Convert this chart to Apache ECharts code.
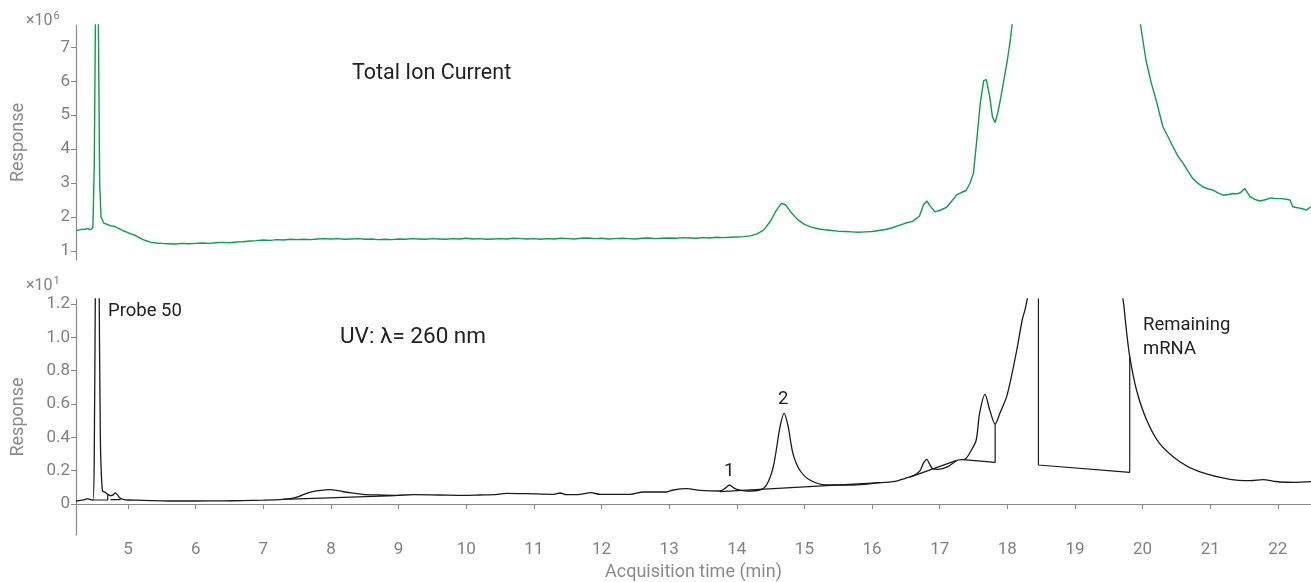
<!DOCTYPE html>
<html>
<head>
<meta charset="utf-8">
<script src="https://cdn.jsdelivr.net/npm/echarts@6/dist/echarts.min.js"></script>
<style>
html,body{margin:0;padding:0;background:#fff;}
#chart{width:1311px;height:582px;}
</style>
</head>
<body>
<div id="chart"></div>
<script>
// ---- Data ----
// Total Ion Current trace (time in min, response ×10^6)
const ticTime = [4.24,4.28,4.32,4.36,4.40,4.43,4.46,4.48,4.50,4.52,4.54,4.56,4.58,4.60,4.64,4.69,4.74,4.80,4.86,4.92,4.98,5.04,5.10,5.16,5.22,5.28,5.34,5.42,5.50,5.60,5.70,5.80,5.90,6.00,6.10,6.20,6.30,6.40,6.50,6.60,6.70,6.80,6.90,7.00,7.10,7.20,7.30,7.40,7.50,7.60,7.70,7.80,7.90,8.00,8.10,8.20,8.30,8.40,8.50,8.60,8.70,8.80,8.90,9.00,9.10,9.20,9.30,9.40,9.50,9.60,9.70,9.80,9.90,10.00,10.10,10.20,10.30,10.40,10.50,10.60,10.70,10.80,10.90,11.00,11.10,11.20,11.30,11.40,11.50,11.60,11.70,11.80,11.90,12.00,12.10,12.20,12.30,12.40,12.50,12.60,12.70,12.80,12.90,13.00,13.10,13.20,13.30,13.40,13.50,13.60,13.70,13.80,13.90,14.00,14.10,14.20,14.30,14.40,14.50,14.58,14.66,14.72,14.80,14.90,15.00,15.10,15.20,15.30,15.40,15.50,15.60,15.70,15.80,15.90,16.00,16.10,16.20,16.30,16.40,16.50,16.60,16.70,16.76,16.81,16.86,16.93,17.00,17.10,17.20,17.25,17.32,17.39,17.45,17.50,17.55,17.60,17.65,17.69,17.74,17.78,17.82,17.86,17.90,17.95,18.00,18.04,18.07,18.15,18.50,19.00,19.50,19.90,19.97,20.05,20.13,20.20,20.30,20.38,20.45,20.52,20.60,20.67,20.74,20.80,20.89,20.96,21.04,21.12,21.19,21.27,21.34,21.40,21.45,21.51,21.59,21.66,21.73,21.80,21.90,21.97,22.05,22.12,22.18,22.22,22.27,22.32,22.37,22.42,22.49];
const ticValue = [1.60,1.62,1.64,1.63,1.66,1.63,1.64,1.70,3.50,8.50,12.0,8.00,3.00,2.00,1.82,1.78,1.74,1.72,1.66,1.60,1.55,1.50,1.46,1.40,1.33,1.29,1.25,1.23,1.22,1.21,1.20,1.22,1.21,1.22,1.23,1.22,1.24,1.25,1.24,1.26,1.27,1.29,1.30,1.32,1.31,1.33,1.32,1.34,1.33,1.34,1.33,1.35,1.36,1.35,1.36,1.34,1.35,1.36,1.34,1.35,1.33,1.34,1.33,1.35,1.34,1.36,1.35,1.34,1.36,1.35,1.34,1.36,1.35,1.37,1.35,1.36,1.34,1.35,1.36,1.35,1.37,1.36,1.35,1.36,1.34,1.36,1.35,1.37,1.36,1.35,1.37,1.38,1.36,1.37,1.35,1.36,1.37,1.36,1.35,1.37,1.38,1.36,1.37,1.38,1.37,1.39,1.38,1.37,1.39,1.38,1.40,1.39,1.40,1.41,1.42,1.44,1.50,1.62,1.88,2.18,2.40,2.36,2.14,1.92,1.78,1.70,1.65,1.62,1.60,1.58,1.57,1.56,1.55,1.56,1.57,1.60,1.63,1.68,1.75,1.82,1.87,2.02,2.35,2.47,2.32,2.15,2.19,2.28,2.52,2.65,2.72,2.78,3.00,3.30,4.30,5.35,6.02,6.05,5.55,4.95,4.78,5.08,5.48,6.05,6.62,7.15,7.66,9.50,13.0,15.0,12.0,8.20,7.66,6.62,5.94,5.45,4.66,4.35,4.07,3.80,3.58,3.35,3.14,3.02,2.89,2.83,2.79,2.70,2.64,2.66,2.69,2.68,2.72,2.84,2.59,2.52,2.47,2.50,2.56,2.54,2.54,2.52,2.50,2.30,2.28,2.26,2.24,2.20,2.30];

// UV 260 nm trace (time in min, response ×10^1)
const uvTime = [4.23,4.30,4.36,4.40,4.44,4.48,4.50,4.52,4.545,4.57,4.59,4.62,4.66,4.70,4.74,4.78,4.81,4.84,4.88,4.94,5.00,5.22,5.50,5.71,6.00,6.40,6.70,7.00,7.29,7.42,7.53,7.63,7.73,7.85,7.98,8.08,8.17,8.30,8.47,8.70,8.96,9.22,9.60,9.96,10.20,10.40,10.60,10.90,11.29,11.39,11.48,11.68,11.84,11.98,12.42,12.62,12.96,13.06,13.26,13.46,13.75,13.84,13.89,13.95,14.00,14.15,14.34,14.44,14.54,14.64,14.70,14.76,14.83,14.93,15.08,15.33,15.72,16.12,16.31,16.49,16.63,16.71,16.76,16.81,16.85,16.89,16.98,17.12,17.27,17.37,17.47,17.54,17.59,17.67,17.74,17.82,17.89,17.99,18.06,18.14,18.22,18.27,18.32,18.60,19.00,19.40,19.65,19.72,19.76,19.81,19.91,20.06,20.25,20.55,20.84,21.29,21.60,21.78,21.95,22.03,22.25,22.49];
const uvValue = [0.018,0.022,0.026,0.032,0.026,0.024,0.30,1.60,3.00,1.50,0.40,0.080,0.070,0.058,0.050,0.055,0.066,0.056,0.036,0.026,0.024,0.022,0.019,0.018,0.018,0.019,0.020,0.023,0.028,0.034,0.046,0.062,0.074,0.082,0.086,0.082,0.075,0.067,0.058,0.054,0.052,0.056,0.054,0.052,0.054,0.056,0.064,0.062,0.058,0.066,0.056,0.058,0.068,0.058,0.058,0.072,0.072,0.084,0.092,0.082,0.078,0.098,0.114,0.098,0.088,0.078,0.084,0.114,0.224,0.464,0.544,0.464,0.304,0.204,0.144,0.114,0.114,0.128,0.134,0.154,0.174,0.200,0.245,0.268,0.240,0.214,0.208,0.224,0.264,0.268,0.324,0.384,0.544,0.658,0.564,0.480,0.544,0.644,0.764,0.924,1.104,1.180,1.30,3.00,4.00,3.00,1.40,1.20,1.044,0.884,0.684,0.504,0.364,0.254,0.194,0.148,0.140,0.146,0.136,0.132,0.130,0.134];

// Integration baselines drawn on the UV trace (null separates segments)
const baseTime  = [4.48,4.70,4.70,null,4.74,4.89,null,7.29,8.96,null,13.75,16.12,null,16.55,17.25,null,17.35,17.82,17.82,null,18.46,18.46,19.81,19.81];
const baseValue = [0.024,0.024,0.058,null,0.026,0.026,null,0.028,0.050,null,0.074,0.128,null,0.160,0.262,null,0.266,0.250,0.480,null,1.60,0.234,0.190,0.884];

// Axis ticks
const xTicks = [5,6,7,8,9,10,11,12,13,14,15,16,17,18,19,20,21,22];
const ticTicks = [1,2,3,4,5,6,7];
const uvTicks = [0,0.2,0.4,0.6,0.8,1.0,1.2];

// ---- Build ----
const zip = (a, b) => a.map((t, i) => (t === null ? [null, null] : [t, b[i]]));
const axisGrey = '#8a8a8a';
const labelGrey = '#808080';
const font = 'Roboto, "Noto Sans", sans-serif';

const chart = echarts.init(document.getElementById('chart'), null, {renderer: 'canvas'});

const yCommon = {
  type: 'value',
  splitLine: {show: false},
  axisLine: {show: true, lineStyle: {color: axisGrey, width: 1.2}},
  axisTick: {show: true, length: 5, lineStyle: {color: axisGrey}},
  axisLabel: {color: labelGrey, fontSize: 17, fontFamily: font, margin: 6},
  name: 'Response',
  nameLocation: 'middle',
  nameGap: 49,
  nameTextStyle: {color: axisGrey, fontSize: 18, fontFamily: font}
};

chart.setOption({
  animation: false,
  backgroundColor: '#fff',
  grid: [
    {left: 76, right: 0, top: 25, height: 235},
    {left: 76, right: 0, top: 299, height: 236}
  ],
  xAxis: [
    {gridIndex: 0, type: 'value', min: 4.23, max: 22.49, show: false},
    {gridIndex: 1, type: 'value', min: 4.23, max: 22.49,
     splitLine: {show: false},
     axisLine: {show: true, lineStyle: {color: axisGrey, width: 1.2}},
     axisTick: {show: true, length: 5, customValues: xTicks, lineStyle: {color: axisGrey}},
     axisLabel: {customValues: xTicks, color: labelGrey, fontSize: 17, fontFamily: font, margin: 6},
     name: 'Acquisition time (min)', nameLocation: 'middle', nameGap: 28,
     nameTextStyle: {color: axisGrey, fontSize: 18, fontFamily: font}}
  ],
  yAxis: [
    Object.assign({}, yCommon, {gridIndex: 0, min: 0.73, max: 7.66,
      axisTick: Object.assign({}, yCommon.axisTick, {customValues: ticTicks}),
      axisLabel: Object.assign({}, yCommon.axisLabel, {customValues: ticTicks})}),
    Object.assign({}, yCommon, {gridIndex: 1, min: -0.186, max: 1.23,
      axisTick: Object.assign({}, yCommon.axisTick, {customValues: uvTicks}),
      axisLabel: Object.assign({}, yCommon.axisLabel, {customValues: uvTicks,
        formatter: v => (Math.abs(v) < 1e-9 ? '0' : v.toFixed(1))})})
  ],
  series: [
    {type: 'line', name: 'Total Ion Current', xAxisIndex: 0, yAxisIndex: 0,
     data: zip(ticTime, ticValue), showSymbol: false, clip: true,
     lineStyle: {color: '#0a9e4c', width: 1.4}},
    {type: 'line', name: 'UV 260 nm', xAxisIndex: 1, yAxisIndex: 1,
     data: zip(uvTime, uvValue), showSymbol: false, clip: true, smooth: 0.3,
     lineStyle: {color: '#1a1a1a', width: 1.3}},
    {type: 'line', name: 'Baselines', xAxisIndex: 1, yAxisIndex: 1,
     data: zip(baseTime, baseValue), showSymbol: false, clip: true, connectNulls: false,
     lineStyle: {color: '#1a1a1a', width: 1.2}}
  ],
  graphic: [
    {type: 'text', left: 26, top: 11, style: {text: '{a|×10}{s|6}', rich: {
      a: {fontSize: 16, fontFamily: font, fill: labelGrey},
      s: {fontSize: 11, fontFamily: font, fill: labelGrey, verticalAlign: 'top', padding: [0,0,8,1]}}}},
    {type: 'text', left: 26, top: 276, style: {text: '{a|×10}{s|1}', rich: {
      a: {fontSize: 16, fontFamily: font, fill: labelGrey},
      s: {fontSize: 11, fontFamily: font, fill: labelGrey, verticalAlign: 'top', padding: [0,0,8,1]}}}},
    {type: 'text', left: 352, top: 63, style: {text: 'Total Ion Current', fontSize: 21.5, fontFamily: font, fill: '#222'}},
    {type: 'text', left: 340, top: 326, style: {text: 'UV: λ= 260 nm', fontSize: 22.5, fontFamily: font, fill: '#222'}},
    {type: 'text', left: 108, top: 302, style: {text: 'Probe 50', fontSize: 18.5, fontFamily: font, fill: '#222'}},
    {type: 'text', left: 724, top: 462, style: {text: '1', fontSize: 18.5, fontFamily: font, fill: '#222'}},
    {type: 'text', left: 778, top: 390, style: {text: '2', fontSize: 18.5, fontFamily: font, fill: '#222'}},
    {type: 'text', left: 1143, top: 313, style: {text: 'Remaining\nmRNA', fontSize: 18.5, lineHeight: 24, fontFamily: font, fill: '#222'}}
  ]
});
</script>
</body>
</html>
